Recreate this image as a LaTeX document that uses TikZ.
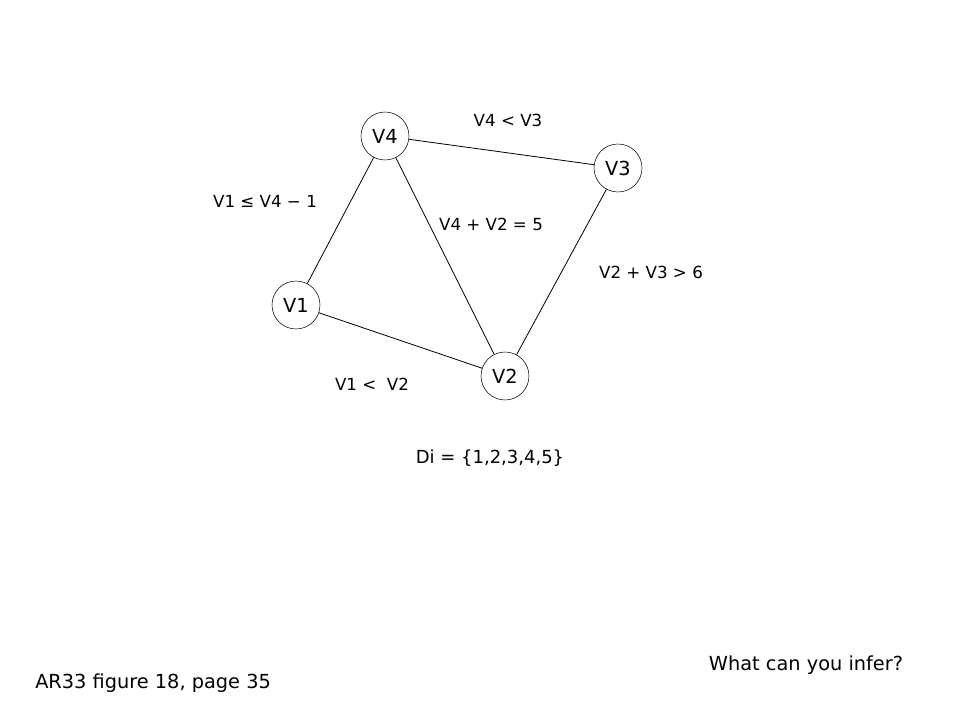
\documentclass[tikz,border=0pt]{standalone}
\usepackage{fontspec}
\setmainfont{DejaVu Sans}
\begin{document}
\begin{tikzpicture}[x=0.75pt,y=-0.75pt,
  vert/.style={draw,circle,minimum size=36pt,inner sep=0pt,font=\fontsize{14.5}{16}\selectfont},
  lab/.style={font=\fontsize{12.5}{14}\selectfont},
  big/.style={font=\fontsize{14.5}{16}\selectfont},
  edge/.style={draw,line width=0.6pt}]
\useasboundingbox[fill=white] (0,0) rectangle (960,720);
\node[vert] (v4) at (385,136) {V4};
\node[vert] (v3) at (618,168) {V3};
\node[vert] (v1) at (296,305) {V1};
\node[vert] (v2) at (505,376) {V2};
\draw[edge] (v4) -- (v3);
\draw[edge] (v4) -- (v1);
\draw[edge] (v4) -- (v2);
\draw[edge] (v3) -- (v2);
\draw[edge] (v1) -- (v2);
\node[lab] (l43) at (508,120) {V4 < V3};
\node[lab] (l14) at (265,201) {V1 ≤ V4 − 1};
\node[lab] (l42) at (491,224) {V4 + V2 = 5};
\node[lab] (l23) at (651,272) {V2 + V3 > 6};
\node[lab] (l12) at (372,384) {V1 <\ \ V2};
\node[font=\fontsize{13.5}{15}\selectfont] (di) at (490,458) {Di = \{1,2,3,4,5\}};
\node[big] (q) at (806,665) {What can you infer?};
\node[big,anchor=west,inner sep=0pt] (ref) at (35,683) {AR33 figure 18, page 35};
\end{tikzpicture}
\end{document}
